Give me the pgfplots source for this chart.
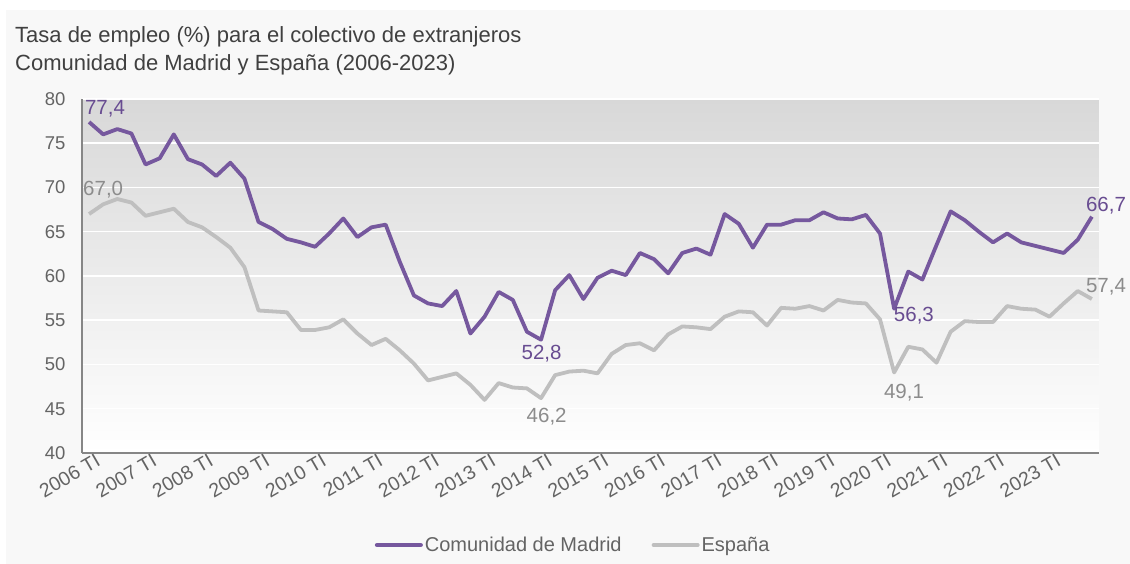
\documentclass[border=0pt]{standalone}
\usepackage{pgfplots}
\pgfplotsset{compat=1.18}
\usepackage{fontspec}
\setmainfont{Liberation Sans}
\definecolor{madrid}{RGB}{118,88,158}
\definecolor{madridtxt}{RGB}{104,76,145}
\definecolor{espana}{RGB}{191,191,191}
\definecolor{espanatxt}{RGB}{140,140,140}
\definecolor{ticktxt}{RGB}{100,100,100}
\definecolor{titletxt}{RGB}{64,64,64}
\definecolor{axisgray}{RGB}{134,134,134}
\definecolor{outerbg}{RGB}{248,248,248}
\definecolor{plottop}{RGB}{216,216,216}
\begin{document}
\begin{tikzpicture}[x=1bp,y=1bp]
\fill[white] (0,0) rectangle (1130,564);
\fill[outerbg] (6,0) rectangle (1130,554);
\node[anchor=base west, inner sep=0pt, text=titletxt, font=\fontsize{22bp}{26bp}\selectfont] at (15,521) {Tasa de empleo (\%) para el colectivo de extranjeros};
\node[anchor=base west, inner sep=0pt, text=titletxt, font=\fontsize{22bp}{26bp}\selectfont] at (15,493) {Comunidad de Madrid y España (2006-2023)};
\begin{axis}[
  at={(82bp,111bp)}, anchor=south west,
  scale only axis, width=1017bp, height=354bp,
  xmin=-0.5, xmax=71.5, ymin=40, ymax=80,
  axis x line*=bottom, axis y line*=left,
  axis line style={-, draw=axisgray, line width=1.5bp},
  axis background/.style={top color=plottop, bottom color=white},
  ymajorgrids, major grid style={white, line width=1.5bp},
  ytick={40,45,...,80},
  xtick={0,4,...,68},
  xticklabels={2006 TI,2007 TI,2008 TI,2009 TI,2010 TI,2011 TI,2012 TI,2013 TI,2014 TI,2015 TI,2016 TI,2017 TI,2018 TI,2019 TI,2020 TI,2021 TI,2022 TI,2023 TI},
  major tick length=0pt,
  /pgf/number format/assume math mode=true,
  yticklabel style={text=ticktxt, font=\fontsize{18.5bp}{21bp}\selectfont, xshift=-13bp},
  xticklabel style={text=ticktxt, font=\fontsize{19.5bp}{22bp}\selectfont, rotate=30, anchor=north east, inner sep=0pt, xshift=5bp, yshift=-3bp},
  clip=false,
  legend columns=2,
  legend style={at={(0.483,-0.26)}, anchor=center, draw=none, fill=none,
    font=\fontsize{20bp}{23bp}\selectfont, text=ticktxt,
    /tikz/every even column/.append style={column sep=28bp},
    inner sep=0pt},
  legend cell align=left,
  legend image code/.code={\draw[#1, line width=4bp, line cap=round] (0bp,0bp) -- (44bp,0bp);},
]
\addplot[espana, line width=3.8bp, line join=round, forget plot] coordinates {
(0,67.0)(1,68.1)(2,68.7)(3,68.3)(4,66.8)(5,67.2)(6,67.6)(7,66.1)(8,65.5)(9,64.4)
(10,63.2)(11,61.0)(12,56.1)(13,56.0)(14,55.9)(15,53.9)(16,53.9)(17,54.2)(18,55.1)(19,53.5)
(20,52.2)(21,52.9)(22,51.6)(23,50.1)(24,48.2)(25,48.6)(26,49.0)(27,47.7)(28,46.0)(29,47.9)
(30,47.4)(31,47.3)(32,46.2)(33,48.8)(34,49.2)(35,49.3)(36,49.0)(37,51.2)(38,52.2)(39,52.4)
(40,51.6)(41,53.4)(42,54.3)(43,54.2)(44,54.0)(45,55.4)(46,56.0)(47,55.9)(48,54.4)(49,56.4)
(50,56.3)(51,56.6)(52,56.1)(53,57.3)(54,57.0)(55,56.9)(56,55.1)(57,49.1)(58,52.0)(59,51.7)
(60,50.2)(61,53.7)(62,54.9)(63,54.8)(64,54.8)(65,56.6)(66,56.3)(67,56.2)(68,55.4)(69,56.9)
(70,58.3)(71,57.4)};
\addplot[madrid, line width=3.8bp, line join=round, forget plot] coordinates {
(0,77.4)(1,76.0)(2,76.6)(3,76.1)(4,72.6)(5,73.3)(6,76.0)(7,73.2)(8,72.6)(9,71.3)
(10,72.8)(11,71.0)(12,66.1)(13,65.3)(14,64.2)(15,63.8)(16,63.3)(17,64.8)(18,66.5)(19,64.4)
(20,65.5)(21,65.8)(22,61.6)(23,57.8)(24,56.9)(25,56.6)(26,58.3)(27,53.5)(28,55.4)(29,58.2)
(30,57.3)(31,53.7)(32,52.8)(33,58.4)(34,60.1)(35,57.4)(36,59.8)(37,60.6)(38,60.1)(39,62.6)
(40,61.9)(41,60.3)(42,62.6)(43,63.1)(44,62.4)(45,67.0)(46,65.9)(47,63.2)(48,65.8)(49,65.8)
(50,66.3)(51,66.3)(52,67.2)(53,66.5)(54,66.4)(55,66.9)(56,64.8)(57,56.3)(58,60.5)(59,59.6)
(60,63.5)(61,67.3)(62,66.3)(63,65.0)(64,63.8)(65,64.8)(66,63.8)(67,63.4)(68,63.0)(69,62.6)
(70,64.1)(71,66.7)};
\addlegendimage{madrid}
\addlegendentry{Comunidad de Madrid}
\addlegendimage{espana}
\addlegendentry{España}
\begin{scope}[every node/.style={font=\fontsize{20.5bp}{23bp}\selectfont, inner sep=0pt}]
\node[text=madridtxt] at (axis cs:1.13,78.9) {77,4};
\node[text=espanatxt] at (axis cs:1.0,69.75) {67,0};
\node[text=madridtxt] at (axis cs:32.04,51.27) {52,8};
\node[text=espanatxt] at (axis cs:32.4,44.06) {46,2};
\node[text=madridtxt] at (axis cs:58.4,55.55) {56,3};
\node[text=espanatxt] at (axis cs:57.7,46.87) {49,1};
\node[text=madridtxt] at (axis cs:72.0,67.94) {66,7};
\node[text=espanatxt] at (axis cs:72.0,58.82) {57,4};
\end{scope}
\end{axis}
\pgfresetboundingbox
\path[use as bounding box] (0,0) rectangle (1130,564);
\end{tikzpicture}
\end{document}
